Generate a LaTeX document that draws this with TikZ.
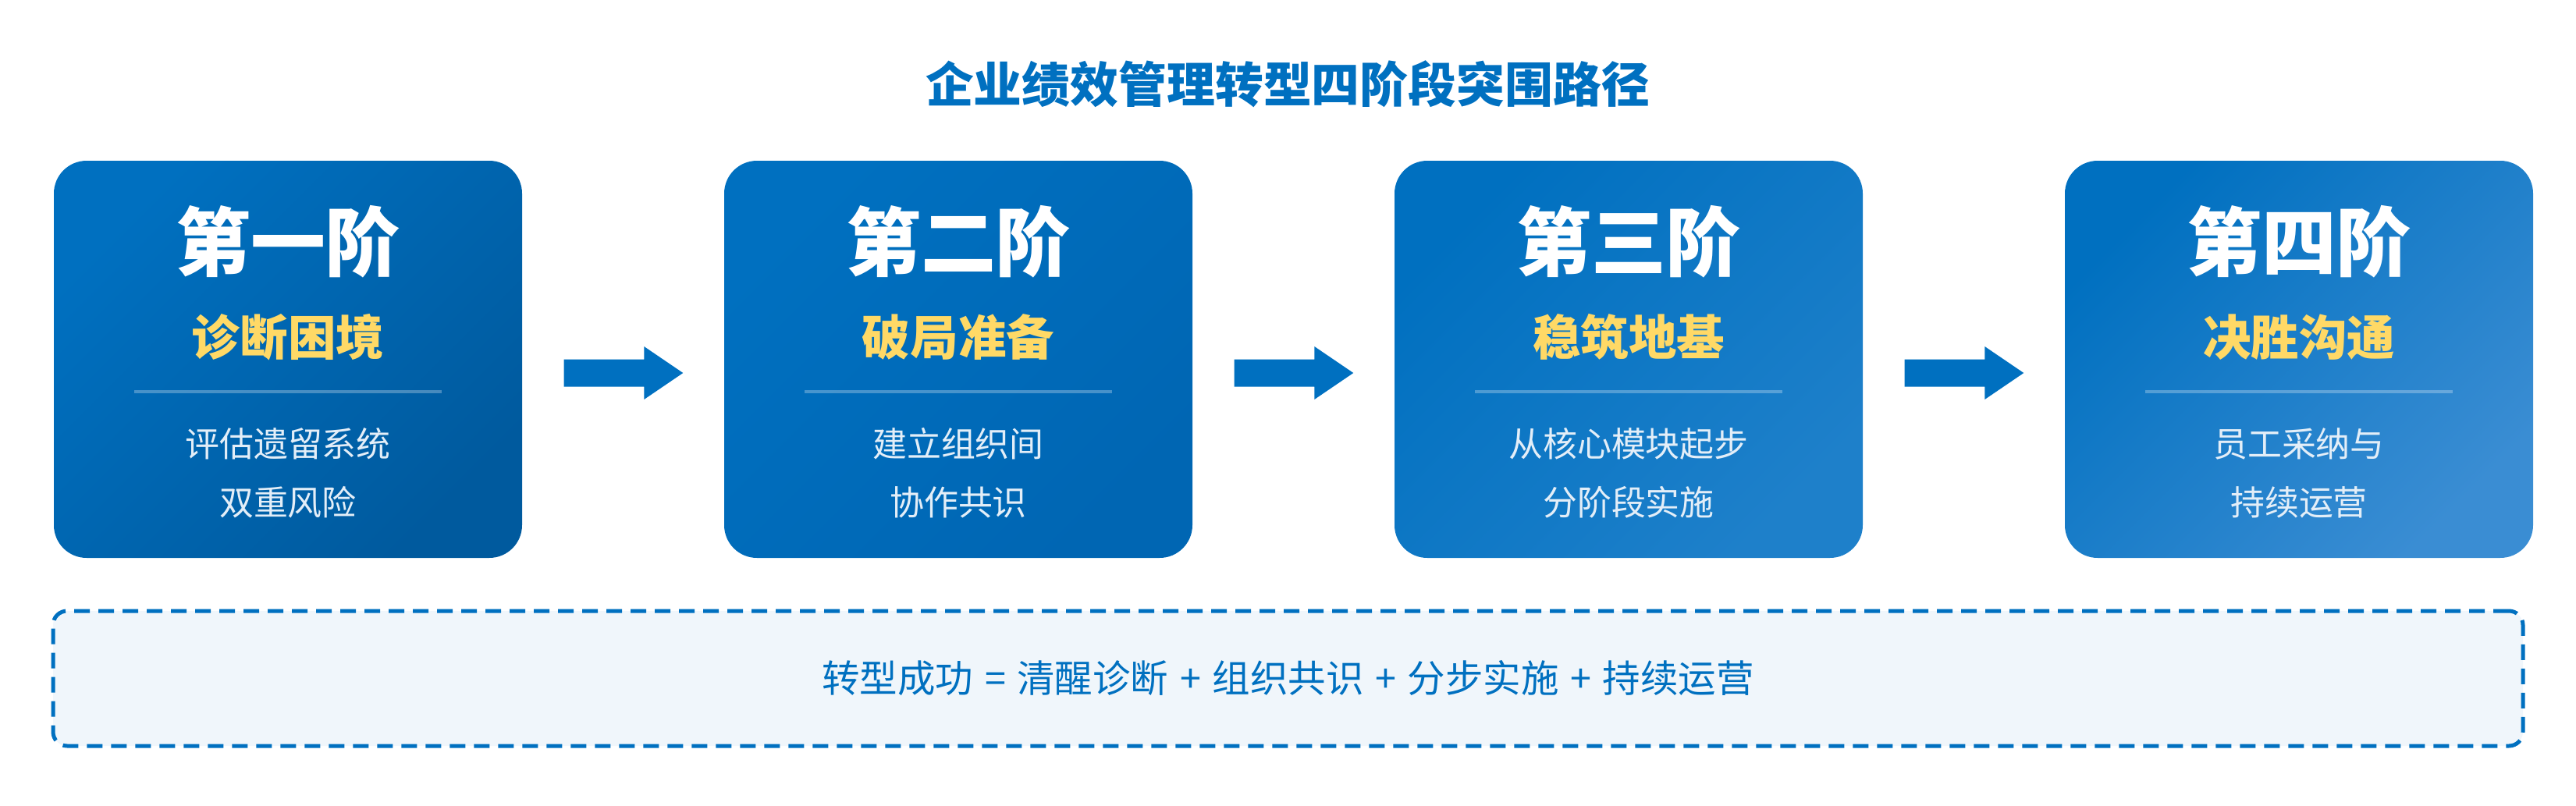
\documentclass[tikz,border=0pt]{standalone}
\usepackage{fontspec}
\setmainfont{Noto Sans CJK SC}
\usepackage{tikz}
\usepackage{xcolor}

\definecolor{mainblue}{HTML}{0070C0}
\definecolor{endone}{HTML}{005A9E}
\definecolor{endtwo}{HTML}{0066B3}
\definecolor{endthree}{HTML}{1E80CA}
\definecolor{endfour}{HTML}{3A8DD3}
\definecolor{stageyellow}{HTML}{FFD966}
\definecolor{bodywhite}{HTML}{E3EEF8}
\definecolor{sumfill}{HTML}{F0F6FB}

\newcommand{\opgap}[1]{\hspace{.3em}#1\hspace{.3em}}

\tikzset{
    stagebox/.style={rounded corners=.42cm, minimum width=6cm, minimum height=5.09cm, inner sep=0pt},
    stagehead/.style={text=white, font=\bfseries\fontsize{27.3}{30}\selectfont},
    stagename/.style={text=stageyellow, font=\bfseries\fontsize{17.5}{20}\selectfont},
    stagetext/.style={text=bodywhite, align=center, font=\fontsize{12.5}{21.3}\selectfont},
    seprule/.style={draw=white, draw opacity=.28, line width=.04cm},
    flowarrow/.style={fill=mainblue},
    sumbox/.style={draw=mainblue, fill=sumfill, line width=.05cm, dash pattern=on .2cm off .11cm,
        rounded corners=.18cm, minimum width=31.65cm, minimum height=1.73cm,
        text=mainblue, font=\fontsize{13.8}{16}\selectfont}
}

\begin{document}
\begin{tikzpicture}
        \useasboundingbox (0,0) rectangle (33.01,10.32);
        \node (title) [text=mainblue, font=\bfseries\fontsize{17.6}{20}\selectfont] at (16.50,9.24) {企业绩效管理转型四阶段突围路径};
        % stages
        \node (s1) [stagebox, top color=mainblue, bottom color=endone, shading angle=45] at (3.69,5.715) {};
        \node (s2) [stagebox, top color=mainblue, bottom color=endtwo, shading angle=45] at (12.28,5.715) {};
        \node (s3) [stagebox, top color=mainblue, bottom color=endthree, shading angle=45] at (20.87,5.715) {};
        \node (s4) [stagebox, top color=mainblue, bottom color=endfour, shading angle=45] at (29.46,5.715) {};
        \node (h1) [stagehead] at ([yshift=1.505cm]s1.center) {第一阶};
        \node (h2) [stagehead] at ([yshift=1.505cm]s2.center) {第二阶};
        \node (h3) [stagehead] at ([yshift=1.505cm]s3.center) {第三阶};
        \node (h4) [stagehead] at ([yshift=1.505cm]s4.center) {第四阶};
        \node (n1) [stagename] at ([yshift=.285cm]s1.center) {诊断困境};
        \node (n2) [stagename] at ([yshift=.285cm]s2.center) {破局准备};
        \node (n3) [stagename] at ([yshift=.285cm]s3.center) {稳筑地基};
        \node (n4) [stagename] at ([yshift=.285cm]s4.center) {决胜沟通};
        \node (t1) [stagetext] at ([yshift=-1.46cm]s1.center) {评估遗留系统\\双重风险};
        \node (t2) [stagetext] at ([yshift=-1.46cm]s2.center) {建立组织间\\协作共识};
        \node (t3) [stagetext] at ([yshift=-1.46cm]s3.center) {从核心模块起步\\分阶段实施};
        \node (t4) [stagetext] at ([yshift=-1.46cm]s4.center) {员工采纳与\\持续运营};
        \foreach \i in {1,...,4}
            \draw [seprule] ([xshift=-1.97cm,yshift=-.415cm]s\i.center) -- ([xshift=1.97cm,yshift=-.415cm]s\i.center);
        % arrows between stages
        \foreach \i/\j in {1/2,2/3,3/4} {
            \coordinate (a\i) at ([xshift=.53cm,yshift=-.175cm]s\i.east);
            \coordinate (b\i) at ([xshift=-.52cm,yshift=-.175cm]s\j.west);
            \fill [flowarrow] ([yshift=.175cm]a\i) -- ([xshift=-.5cm,yshift=.175cm]b\i) -- ([xshift=-.5cm,yshift=.34cm]b\i)
                -- (b\i) -- ([xshift=-.5cm,yshift=-.34cm]b\i) -- ([xshift=-.5cm,yshift=-.175cm]b\i) -- ([yshift=-.175cm]a\i) -- cycle;
        }
        \node (sum) [sumbox] at (16.505,1.625) {转型成功\opgap{=}清醒诊断\opgap{+}组织共识\opgap{+}分步实施\opgap{+}持续运营};
    \end{tikzpicture}
\end{document}
